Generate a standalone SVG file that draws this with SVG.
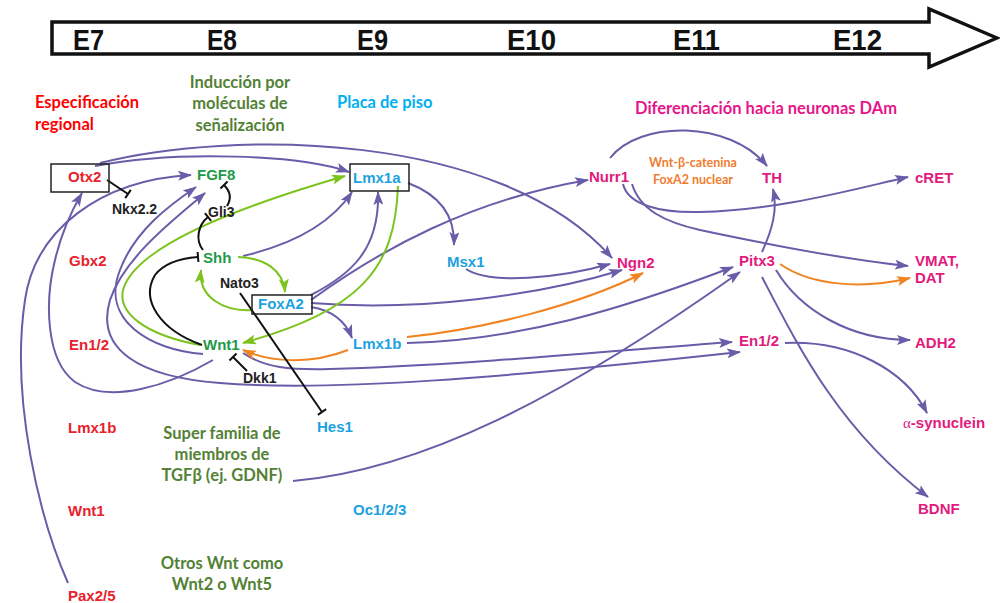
<svg xmlns="http://www.w3.org/2000/svg" width="1000" height="603" viewBox="0 0 1000 603">
<defs>
<style>
.n{font-family:'Liberation Sans',Arial,sans-serif;font-weight:bold;font-size:15px}
.s{font-family:'Liberation Sans',Arial,sans-serif;font-weight:bold;font-size:14px;fill:#222}
.h{font-family:Lato,'Liberation Sans',sans-serif;font-weight:bold;font-size:16.5px}
.red{fill:#E8212B}.grn{fill:#1E9A48}.blu{fill:#1DA1E0}.mag{fill:#E31A7D}
.hred{fill:#FF0000}.hgrn{fill:#538135}.hblu{fill:#00B0F0}.hmag{fill:#E6158A}.hor{fill:#F07D2E}
.e{font-family:'Liberation Sans',Arial,sans-serif;font-weight:bold;font-size:30px;fill:#111}
.p{fill:none;stroke:#6A5CA8;stroke-width:2;marker-end:url(#ap)}
.g{fill:none;stroke:#7DC31E;stroke-width:2;marker-end:url(#ag)}
.o{fill:none;stroke:#F08421;stroke-width:2;marker-end:url(#ao)}
.k{fill:none;stroke:#111;stroke-width:2;marker-end:url(#tb)}
.box{fill:none;stroke:#222;stroke-width:1.5}
</style>
<marker id="ap" viewBox="0 0 14 10" refX="13" refY="5" markerWidth="14" markerHeight="10" markerUnits="userSpaceOnUse" orient="auto-start-reverse"><path d="M0,0 L14,5 L0,10 L3,5 z" fill="#6A5CA8"/></marker>
<marker id="ag" viewBox="0 0 14 10" refX="13" refY="5" markerWidth="14" markerHeight="10" markerUnits="userSpaceOnUse" orient="auto"><path d="M0,0 L14,5 L0,10 L3,5 z" fill="#7DC31E"/></marker>
<marker id="ao" viewBox="0 0 14 10" refX="13" refY="5" markerWidth="14" markerHeight="10" markerUnits="userSpaceOnUse" orient="auto"><path d="M0,0 L14,5 L0,10 L3,5 z" fill="#F08421"/></marker>
<marker id="tb" viewBox="-2 -6 4 12" refX="0" refY="0" markerWidth="4" markerHeight="12" markerUnits="userSpaceOnUse" orient="auto"><path d="M0,-5 L0,5" stroke="#111" stroke-width="2"/></marker>
</defs>
<rect width="1000" height="603" fill="#fff"/>

<g id="timeline">
<polygon points="52,22 929,22 929,9 997,38 929,67 929,54 52,54" fill="#fff" stroke="#111" stroke-width="3.5" stroke-linejoin="miter"/>
<text class="e" x="73" y="50" textLength="31" lengthAdjust="spacingAndGlyphs">E7</text>
<text class="e" x="207" y="50" textLength="30" lengthAdjust="spacingAndGlyphs">E8</text>
<text class="e" x="357" y="50" textLength="31" lengthAdjust="spacingAndGlyphs">E9</text>
<text class="e" x="507" y="50" textLength="49" lengthAdjust="spacingAndGlyphs">E10</text>
<text class="e" x="673" y="50" textLength="47" lengthAdjust="spacingAndGlyphs">E11</text>
<text class="e" x="833" y="50" textLength="49" lengthAdjust="spacingAndGlyphs">E12</text>
</g>

<g id="headers">
<text class="h hred" x="35" y="108">Especificación</text>
<text class="h hred" x="35" y="130">regional</text>
<text class="h hgrn" x="240" y="88" text-anchor="middle">Inducción por</text>
<text class="h hgrn" x="240" y="109" text-anchor="middle">moléculas de</text>
<text class="h hgrn" x="240" y="131" text-anchor="middle">señalización</text>
<text class="h hblu" x="337" y="108">Placa de piso</text>
<text class="h hmag" x="635" y="114">Diferenciación hacia neuronas DAm</text>
<text class="h hor" x="693" y="167" text-anchor="middle" style="font-size:12.5px">Wnt-β-catenina</text>
<text class="h hor" x="693" y="184" text-anchor="middle" style="font-size:12.5px">FoxA2 nuclear</text>
<text class="h hgrn" x="222" y="439" text-anchor="middle">Super familia de</text>
<text class="h hgrn" x="222" y="460" text-anchor="middle">miembros de</text>
<text class="h hgrn" x="222" y="481" text-anchor="middle">TGFβ (ej. GDNF)</text>
<text class="h hgrn" x="222" y="569" text-anchor="middle">Otros Wnt como</text>
<text class="h hgrn" x="222" y="590" text-anchor="middle">Wnt2 o Wnt5</text>
</g>

<g id="connectors">
<!-- purple -->
<path class="p" d="M95,166 C180,150 300,155 349,172"/>
<path class="p" d="M100,163 C230,130 500,130 612,258"/>
<path class="p" d="M68,583 C40,520 10,400 25,300 C35,230 100,180 191,175"/>
<path class="p" d="M213,360 C170,385 110,405 75,382 C45,360 45,300 55,260 C62,230 72,210 82,193"/>
<path class="p" d="M203,354 C150,350 100,320 120,270 C135,230 170,205 196,187"/>
<path class="p" style="marker-start:url(#ap)" d="M205,193 C180,215 125,255 110,300 C95,350 140,377 220,383 C330,392 500,378 740,352"/>
<path class="p" d="M243,353 C265,368 290,370 330,369 C450,366 600,352 732,342"/>
<path class="p" d="M243,256 C290,245 330,225 352,192"/>
<path class="p" d="M311,295 C350,275 380,250 378,192"/>
<path class="p" d="M311,300 C380,250 470,200 588,180"/>
<path class="p" d="M408,183 C440,195 455,215 454,245"/>
<path class="p" d="M466,269 C490,285 560,278 610,264"/>
<path class="p" d="M311,303 C420,312 540,295 622,270"/>
<path class="p" d="M311,307 C330,310 345,320 352,338"/>
<path class="p" d="M407,343 C520,340 620,310 733,267"/>
<path class="p" d="M293,481 C420,470 560,400 740,272"/>
<path class="p" d="M610,158 C640,120 730,120 767,166"/>
<path class="p" d="M762,252 C772,230 778,210 773,189"/>
<path class="p" d="M623,184 C628,205 660,213 700,212 C780,210 850,190 908,177"/>
<path class="p" d="M632,184 C640,210 665,222 700,230 C780,247 850,260 908,266"/>
<path class="p" d="M776,270 C800,310 850,340 910,340"/>
<path class="p" d="M762,277 C800,350 840,430 928,497"/>
<path class="p" d="M785,343 C850,340 905,370 927,413"/>
<!-- green -->
<path class="g" d="M238,257 C265,258 283,270 285,292"/>
<path class="g" d="M253,310 C225,312 198,298 201,270"/>
<path class="g" d="M398,186 C395,270 360,310 243,343"/>
<path class="g" d="M200,345 C145,335 115,312 124,287 C137,252 210,215 345,176"/>
<!-- orange -->
<path class="o" d="M407,337 C480,330 580,305 643,273"/>
<path class="o" d="M348,350 C310,365 270,362 243,350"/>
<path class="o" d="M780,264 C810,285 860,290 910,278"/>
<!-- inhibitory -->
<path class="k" d="M107,180 L128,194"/>
<path class="k" d="M227,206 C232,198 230,191 224,185"/>
<path class="k" d="M203,250 C195,240 198,225 208,217"/>
<path class="k" d="M202,345 C160,330 140,300 155,275 C165,262 185,258 198,257"/>
<path class="k" d="M247,371 L233,357"/>
<path class="k" d="M240,293 L322,412"/>
</g>

<g id="node-Otx2"><rect class="box" x="51" y="164" width="58" height="28"/><text class="n red" x="68" y="182">Otx2</text></g>
<g id="node-Gbx2"><text class="n red" x="69" y="266">Gbx2</text></g>
<g id="node-En12-left"><text class="n red" x="69" y="350">En1/2</text></g>
<g id="node-Lmx1b-left"><text class="n red" x="68" y="433">Lmx1b</text></g>
<g id="node-Wnt1-left"><text class="n red" x="68" y="516">Wnt1</text></g>
<g id="node-Pax25"><text class="n red" x="68" y="601">Pax2/5</text></g>

<g id="node-Nkx22"><text class="s" x="112" y="214">Nkx2.2</text></g>
<g id="node-FGF8"><text class="n grn" x="197" y="180">FGF8</text></g>
<g id="node-Gli3"><text class="s" x="208" y="217">Gli3</text></g>
<g id="node-Shh"><text class="n grn" x="203" y="263">Shh</text></g>
<g id="node-Nato3"><text class="s" x="220" y="288">Nato3</text></g>
<g id="node-Wnt1"><text class="n grn" x="203" y="350">Wnt1</text></g>
<g id="node-Dkk1"><text class="s" x="243" y="383">Dkk1</text></g>

<g id="node-Lmx1a"><rect class="box" x="350" y="164" width="59" height="27"/><text class="n blu" x="353" y="183">Lmx1a</text></g>
<g id="node-FoxA2"><rect class="box" x="252" y="295" width="60" height="19"/><text class="n blu" x="258" y="309">FoxA2</text></g>
<g id="node-Msx1"><text class="n blu" x="447" y="267">Msx1</text></g>
<g id="node-Lmx1b"><text class="n blu" x="353" y="349">Lmx1b</text></g>
<g id="node-Hes1"><text class="n blu" x="317" y="432">Hes1</text></g>
<g id="node-Oc123"><text class="n blu" x="353" y="515">Oc1/2/3</text></g>

<g id="node-Nurr1"><text class="n mag" x="589" y="182">Nurr1</text></g>
<g id="node-Ngn2"><text class="n mag" x="617" y="268">Ngn2</text></g>
<g id="node-TH"><text class="n mag" x="762" y="183">TH</text></g>
<g id="node-cRET"><text class="n mag" x="915" y="183">cRET</text></g>
<g id="node-Pitx3"><text class="n mag" x="739" y="266">Pitx3</text></g>
<g id="node-VMAT"><text class="n mag" x="915" y="266">VMAT,</text><text class="n mag" x="915" y="283">DAT</text></g>
<g id="node-En12-right"><text class="n mag" x="739" y="346">En1/2</text></g>
<g id="node-ADH2"><text class="n mag" x="915" y="348">ADH2</text></g>
<g id="node-asyn"><text class="n mag" x="903" y="428"><tspan style="font-family:'Liberation Serif',serif;font-weight:normal">α</tspan>-synuclein</text></g>
<g id="node-BDNF"><text class="n mag" x="918" y="514">BDNF</text></g>
</svg>
